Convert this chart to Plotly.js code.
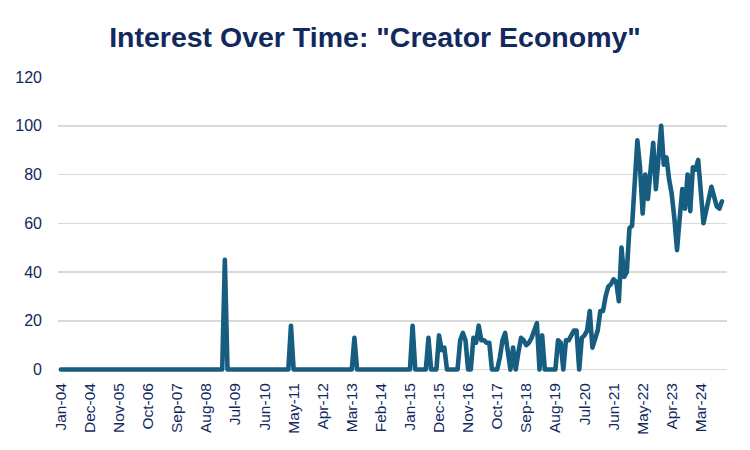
<!DOCTYPE html>
<html>
<head>
<meta charset="utf-8">
<script src="https://cdn.plot.ly/plotly-3.0.1.min.js"></script>
<style>
  html, body { margin: 0; padding: 0; background: #ffffff; }
  #chart { width: 750px; height: 450px; }
  path.js-line { stroke-linejoin: round !important; stroke-linecap: round !important; }
</style>
</head>
<body>
<div id="chart"></div>
<script>
// Monthly categories Jan-04 .. Dec-24
const monthNames = ["Jan","Feb","Mar","Apr","May","Jun","Jul","Aug","Sep","Oct","Nov","Dec"];
const months = [];
for (let y = 2004; y <= 2024; y++) {
  for (let m = 0; m < 12; m++) {
    months.push(monthNames[m] + "-" + String(y % 100).padStart(2, "0"));
  }
}

// Interest values (0-100)
const zeros2004to2009 = [0,0,0,0,0,0,0,0,0,0,0,0, 0,0,0,0,0,0,0,0,0,0,0,0, 0,0,0,0,0,0,0,0,0,0,0,0,
                         0,0,0,0,0,0,0,0,0,0,0,0, 0,0,0,0,0,0,0,0,0,0,0,0, 0,0];
const interest = zeros2004to2009.concat([
  45, 0,0,0,0,0,0,0,0,0,0,0,0,0,0,0,0,0,0,0,0,0,0,0,0,          // 62-87
  18, 0,0,0,0,0,0,0,0,0,0,0,0,0,0,0,0,0,0,0,0,0,0,0,            // 88-111
  13, 0,0,0,0,0,0,0,0,0,0,0,0,0,0,0,0,0,0,0,0,0,                // 112-133
  18, 0,0,0,0,0,                                                 // 134-139
  13, 0,0,0, 14, 8, 9, 0,0,0,0,0,                                // 140-151
  12, 15, 12, 0, 0, 13, 11, 18, 12, 12, 11, 11, 0, 0, 0,         // 152-166
  5, 12, 15, 8, 0, 9, 0, 7, 13, 12, 10, 11, 13, 16, 19, 0, 14,   // 167-183
  0, 0, 0, 0, 0, 12, 11, 0, 12, 12, 14, 16, 16, 0, 13, 14, 16,   // 184-200
  24, 9, 13, 16, 24, 24, 30, 34, 35, 37, 36, 28, 50, 38, 40,     // 201-215
  58, 59, 76, 94, 83, 64, 80, 70, 82, 93, 74, 87, 100, 84, 87,   // 216-230
  78, 72, 62, 49, 62, 74, 66, 80, 65, 83, 82, 86, 73, 60, 65,    // 231-245
  71, 75, 71, 67, 66, 69                                         // 246-251
]);

// Tick labels every 11 months
const tickLabels = [];
for (let i = 0; i < months.length; i += 11) tickLabels.push(months[i]);

const navy = "#12295e";

const trace = {
  type: "scatter",
  mode: "lines",
  x: months,
  y: interest,
  line: { color: "#175d80", width: 4.6, shape: "linear" },
  hoverinfo: "x+y"
};

const layout = {
  width: 750,
  height: 450,
  margin: { l: 58, r: 23, t: 77, b: 78 },
  paper_bgcolor: "#ffffff",
  plot_bgcolor: "#ffffff",
  showlegend: false,
  title: {
    text: "<b>Interest Over Time: \"Creator Economy\"</b>",
    x: 0.5,
    xanchor: "center",
    y: 0.918,
    yanchor: "middle",
    font: { family: "Liberation Sans, Arial, sans-serif", size: 28.5, color: navy }
  },
  xaxis: {
    type: "category",
    categoryorder: "array",
    categoryarray: months,
    range: [-1.1, 251.9],
    tickmode: "array",
    tickvals: tickLabels,
    ticktext: tickLabels,
    tickangle: -90,
    showgrid: false,
    zeroline: false,
    showline: false,
    ticks: "",
    ticklabelstandoff: 7,
    tickfont: { family: "Liberation Sans, Arial, sans-serif", size: 15.5, color: navy }
  },
  yaxis: {
    range: [-1, 120],
    tickvals: [0, 20, 40, 60, 80, 100, 120],
    showgrid: true,
    gridcolor: "#d9d9d9",
    gridwidth: 1.5,
    zeroline: false,
    showline: false,
    ticks: "",
    ticklabelstandoff: 15,
    tickfont: { family: "Liberation Sans, Arial, sans-serif", size: 16, color: navy }
  }
};

Plotly.newPlot("chart", [trace], layout, { displayModeBar: false, staticPlot: true });
</script>
</body>
</html>
